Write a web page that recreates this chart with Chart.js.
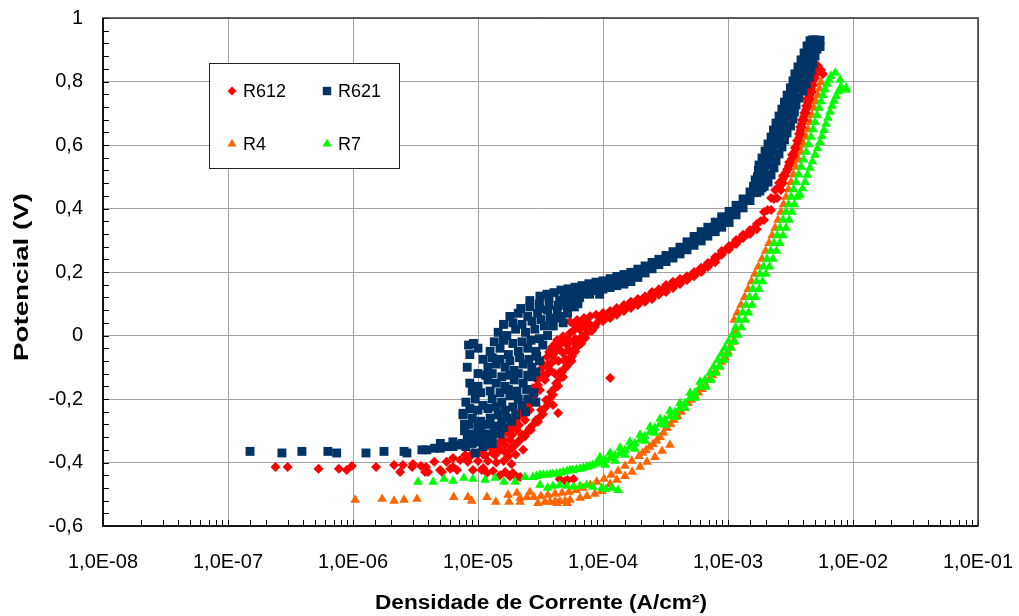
<!DOCTYPE html>
<html>
<head>
<meta charset="utf-8">
<script src="https://cdn.jsdelivr.net/npm/chart.js@4/dist/chart.umd.min.js"></script>
<style>
  html, body { margin: 0; padding: 0; background: #fff; }
  canvas { display: block; }
</style>
</head>
<body>
<canvas id="polChart" width="1019" height="616"></canvas>
<script>
// Potential (V) vs current density (A/cm2)
const seriesNames = ['R612', 'R621', 'R4', 'R7'];
const seriesColors = ['#ff0000', '#003366', '#ff6600', '#00ff00'];
const xTickDecades = [-8, -7, -6, -5, -4, -3, -2, -1];
const yTicks = [-0.6, -0.4, -0.2, 0, 0.2, 0.4, 0.6, 0.8, 1];

const r612 = [
  // cathodic tail
  [2.4e-7,-0.414],[3.0e-7,-0.414],[5.3e-7,-0.42],[7.7e-7,-0.42],[8.9e-7,-0.424],[9.8e-7,-0.411],
  [1.53e-6,-0.414],[2.13e-6,-0.408],[2.38e-6,-0.43],[2.51e-6,-0.408],[2.97e-6,-0.414],[3.02e-6,-0.405],
  [3.5e-6,-0.411],[3.77e-6,-0.43],[3.84e-6,-0.414],[3.98e-6,-0.43],[4.47e-6,-0.398],[4.97e-6,-0.424],
  [5.16e-6,-0.43],[5.6e-6,-0.398],[6.0e-6,-0.42],[6.31e-6,-0.386],[6.31e-6,-0.414],[6.8e-6,-0.424],
  [7.2e-6,-0.392],[7.9e-6,-0.376],[8.1e-6,-0.392],[8.3e-6,-0.398],[9.1e-6,-0.424],[9.1e-6,-0.37],
  [1.07e-5,-0.424],[1.1e-5,-0.417],[1.18e-5,-0.433],[1.32e-5,-0.427],[1.5e-5,-0.44],[1.65e-5,-0.43],
  [1.8e-5,-0.443],[1.9e-5,-0.433],[2.05e-5,-0.446],[2.17e-5,-0.446],
  [4.5e-5,-0.452],[4.97e-5,-0.458],[5.2e-5,-0.455],[5.8e-5,-0.452],
  [1.0e-5,-0.395],[1.2e-5,-0.395],[1.4e-5,-0.4],[1.6e-5,-0.395],[1.85e-5,-0.405],
  [1.1e-5,-0.375],[1.3e-5,-0.37],[1.75e-5,-0.38],[2.0e-5,-0.375],[2.3e-5,-0.36],
  // rising cluster
  [8.6e-6,-0.383],[1.04e-5,-0.367],[1.25e-5,-0.351],[1.5e-5,-0.335],[1.71e-5,-0.307],[1.9e-5,-0.282],
  [2.17e-5,-0.25],[2.47e-5,-0.213],[2.7e-5,-0.178],[2.97e-5,-0.14],[3.25e-5,-0.102],[3.57e-5,-0.068],
  [3.91e-5,-0.036],[4.29e-5,-0.014],[4.79e-5,-0.002],[5.45e-5,0.008],
  [1.42e-5,-0.354],[1.58e-5,-0.326],[1.77e-5,-0.298],[2.01e-5,-0.266],[2.25e-5,-0.235],[2.51e-5,-0.2],
  [2.75e-5,-0.165],[3.02e-5,-0.128],[3.31e-5,-0.09],[3.7e-5,-0.052],[4.13e-5,-0.027],
  [1.64e-5,-0.345],[1.87e-5,-0.313],[2.13e-5,-0.282],[2.33e-5,-0.25],[2.56e-5,-0.219],[2.8e-5,-0.187],
  [3.02e-5,-0.156],[3.31e-5,-0.124],[3.63e-5,-0.093],[3.98e-5,-0.061],[4.47e-5,-0.03],
  [1.14e-5,-0.376],[1.8e-5,-0.329],[2.05e-5,-0.298],[2.38e-5,-0.266],[2.6e-5,-0.235],[2.86e-5,-0.203],
  [3.13e-5,-0.172],[3.43e-5,-0.14],[3.77e-5,-0.109],[4.13e-5,-0.077],[4.53e-5,-0.046],[5.16e-5,-0.03],
  [1.5e-5,-0.361],[1.98e-5,-0.345],[2.25e-5,-0.313],[2.6e-5,-0.291],[2.91e-5,-0.266],[3.19e-5,-0.235],
  [3.5e-5,-0.203],[3.84e-5,-0.178],[4.21e-5,-0.15],[4.53e-5,-0.115],[4.97e-5,-0.083],[5.45e-5,-0.052],
  [5.97e-5,-0.024],[6.8e-5,-0.002],
  [1.8e-5,-0.361],[2.09e-5,-0.335],[2.38e-5,-0.317],[2.65e-5,-0.298],[3.02e-5,-0.272],[3.31e-5,-0.247],
  [3.63e-5,-0.216],[3.98e-5,-0.187],[4.37e-5,-0.159],[4.79e-5,-0.131],[5.16e-5,-0.096],[5.66e-5,-0.065],
  [6.31e-5,-0.033],[7.2e-5,-0.008],[8.14e-5,0.014],
  [1.37e-5,-0.376],[1.64e-5,-0.367],[1.9e-5,-0.351],[2.17e-5,-0.329],[2.47e-5,-0.304],[2.75e-5,-0.282],
  [3.13e-5,-0.257],[3.43e-5,-0.228],[3.77e-5,-0.197],[4.13e-5,-0.165],[4.53e-5,-0.134],[4.97e-5,-0.102],
  [5.45e-5,-0.071],[5.97e-5,-0.039],[6.55e-5,-0.014],[7.45e-5,0.008],[8.6e-5,0.027],
  [3.6e-5,-0.12],[4.1e-5,-0.12],[4.7e-5,-0.115],
  [3.9e-5,-0.085],[4.4e-5,-0.08],[5.0e-5,-0.075],[5.6e-5,-0.08],
  [4.2e-5,-0.05],[4.8e-5,-0.055],[5.3e-5,-0.045],[6.0e-5,-0.05],
  [4.7e-5,-0.02],[5.3e-5,-0.015],[6.0e-5,-0.01],[6.7e-5,-0.025],
  [5.8e-5,0.015],[6.5e-5,0.02],[7.2e-5,0.025],[8.0e-5,0.03],
  [6.0e-5,0.03],[6.8e-5,0.035],[7.6e-5,0.04],
  [3.98e-5,-0.219],[4.37e-5,-0.244],[1.14e-4,-0.134],
  [5.45e-5,0.043],[6.2e-5,0.049],[7.05e-5,0.055],[7.9e-5,0.061],
  // middle band
  [8.8e-5,0.065],[1.0e-4,0.071],[1.14e-4,0.077],[1.29e-4,0.087],[1.47e-4,0.096],[1.67e-4,0.106],
  [1.9e-4,0.115],[2.17e-4,0.124],[2.47e-4,0.137],[2.8e-4,0.146],[3.19e-4,0.159],[3.63e-4,0.169],
  [4.13e-4,0.178],[4.7e-4,0.187],[5.35e-4,0.2],[6.1e-4,0.213],[6.9e-4,0.228],[7.9e-4,0.247],
  [8.9e-4,0.266],[1.02e-3,0.282],[1.16e-3,0.301],[1.32e-3,0.317],[1.5e-3,0.332],[1.7e-3,0.351],
  [1.94e-3,0.389],[2.21e-3,0.433],
  [8.8e-5,0.036],[1.0e-4,0.046],[1.14e-4,0.055],[1.29e-4,0.065],[1.47e-4,0.077],[1.67e-4,0.087],
  [1.9e-4,0.096],[2.17e-4,0.106],[2.47e-4,0.115],[2.8e-4,0.128],[3.19e-4,0.137],[3.63e-4,0.15],
  [4.13e-4,0.162],[4.7e-4,0.175],[5.35e-4,0.187],[6.1e-4,0.2],[6.9e-4,0.216],[7.9e-4,0.231],
  [8.9e-4,0.254],[1.02e-3,0.272],[1.16e-3,0.288],[1.32e-3,0.307],[1.5e-3,0.32],[1.7e-3,0.335],
  [1.94e-3,0.364],[2.21e-3,0.395],[2.47e-3,0.433],
  [9.38e-5,0.055],[1.07e-4,0.062],[1.21e-4,0.071],[1.38e-4,0.081],[1.57e-4,0.092],[1.79e-4,0.101],
  [2.03e-4,0.11],[2.31e-4,0.121],[2.63e-4,0.132],[2.99e-4,0.143],[3.4e-4,0.154],[3.87e-4,0.165],
  [4.41e-4,0.176],[5.01e-4,0.187],[5.7e-4,0.2],[6.49e-4,0.214],[7.38e-4,0.231],[8.4e-4,0.25],
  [9.55e-4,0.269],[1.09e-3,0.286],[1.24e-3,0.303],[1.41e-3,0.319],[1.6e-3,0.335],[1.82e-3,0.36],
  [2.07e-3,0.395],[2.33e-3,0.43],
  // top branch
  [2.38e-3,0.458],[2.56e-3,0.48],[2.75e-3,0.502],[2.97e-3,0.524],[3.08e-3,0.546],[3.25e-3,0.569],
  [3.43e-3,0.591],[3.57e-3,0.613],[3.7e-3,0.635],[3.77e-3,0.657],[3.91e-3,0.679],[4.06e-3,0.701],
  [4.21e-3,0.723],[4.29e-3,0.745],[4.47e-3,0.767],[4.53e-3,0.789],[4.7e-3,0.811],[4.97e-3,0.833],
  [5.25e-3,0.849],
  [2.65e-3,0.458],[2.75e-3,0.48],[2.86e-3,0.502],[3.02e-3,0.524],[3.19e-3,0.546],[3.43e-3,0.569],
  [3.63e-3,0.591],[3.77e-3,0.613],[3.84e-3,0.635],[3.91e-3,0.657],[4.06e-3,0.679],[4.21e-3,0.701],
  [4.37e-3,0.723],[4.53e-3,0.745],[4.7e-3,0.767],[4.79e-3,0.789],[4.97e-3,0.811],[5.25e-3,0.833],
  [5.54e-3,0.836],[5.75e-3,0.824],
  [2.58e-3,0.469],[2.73e-3,0.491],[2.9e-3,0.513],[3.06e-3,0.535],[3.24e-3,0.557],[3.43e-3,0.58],
  [3.6e-3,0.602],[3.72e-3,0.624],[3.8e-3,0.646],[3.91e-3,0.668],[4.06e-3,0.69],[4.21e-3,0.712],
  [4.35e-3,0.734],[4.49e-3,0.756],[4.61e-3,0.778],[4.74e-3,0.8],[4.97e-3,0.822]
];

const r621 = [
  // flat tail
  [1.5e-7,-0.365],[2.7e-7,-0.37],[3.9e-7,-0.365],[6.3e-7,-0.365],[7.4e-7,-0.37],[1.27e-6,-0.37],
  [1.77e-6,-0.365],[2.56e-6,-0.365],[2.7e-6,-0.37],[3.56e-6,-0.36],[3.9e-6,-0.36],[4.5e-6,-0.355],
  [5.0e-6,-0.355],[5.0e-6,-0.34],[5.6e-6,-0.35],[6.3e-6,-0.35],[6.3e-6,-0.335],[7.0e-6,-0.345],
  [7.5e-6,-0.34],[8.0e-6,-0.35],[9.0e-6,-0.34],[9.5e-6,-0.37],[1.1e-5,-0.35],
  // scattered cluster
  [8.5e-6,-0.33],[1.0e-5,-0.335],[1.15e-5,-0.33],[1.3e-5,-0.34],
  [8.2e-6,-0.315],[9.5e-6,-0.32],[1.1e-5,-0.315],[1.3e-5,-0.32],[1.5e-5,-0.31],
  [7.8e-6,-0.3],[9.0e-6,-0.31],[1.05e-5,-0.3],[1.2e-5,-0.31],[1.4e-5,-0.3],[1.6e-5,-0.29],
  [8.5e-6,-0.28],[1.0e-5,-0.285],[1.15e-5,-0.28],[1.35e-5,-0.285],[1.55e-5,-0.275],[1.85e-5,-0.27],
  [7.6e-6,-0.25],[9.0e-6,-0.26],[1.05e-5,-0.27],[1.25e-5,-0.26],[1.45e-5,-0.25],[1.7e-5,-0.26],[2.0e-5,-0.25],[2.4e-5,-0.24],
  [8.6e-6,-0.23],[1.0e-5,-0.235],[1.2e-5,-0.23],[1.4e-5,-0.225],[1.65e-5,-0.235],[1.9e-5,-0.225],[2.25e-5,-0.22],
  [8.0e-6,-0.21],[9.5e-6,-0.2],[1.1e-5,-0.22],[1.3e-5,-0.2],[1.55e-5,-0.21],[1.8e-5,-0.19],[2.1e-5,-0.2],[2.5e-5,-0.2],[2.9e-5,-0.21],
  [9.0e-6,-0.175],[1.05e-5,-0.18],[1.25e-5,-0.175],[1.5e-5,-0.18],[1.75e-5,-0.17],[2.05e-5,-0.175],[2.45e-5,-0.17],[2.8e-5,-0.18],
  [8.6e-6,-0.15],[1.0e-5,-0.16],[1.2e-5,-0.14],[1.4e-5,-0.15],[1.65e-5,-0.16],[1.95e-5,-0.14],[2.3e-5,-0.15],[2.7e-5,-0.13],
  [1.0e-5,-0.12],[1.15e-5,-0.125],[1.3e-5,-0.12],[1.55e-5,-0.13],[1.8e-5,-0.125],[2.1e-5,-0.12],[2.5e-5,-0.125],[2.9e-5,-0.115],
  [1.2e-5,-0.1],[1.4e-5,-0.09],[1.65e-5,-0.1],[1.95e-5,-0.11],[2.3e-5,-0.09],[2.7e-5,-0.1],[3.1e-5,-0.08],
  [1.1e-5,-0.075],[1.3e-5,-0.07],[1.5e-5,-0.075],[1.8e-5,-0.08],[2.15e-5,-0.07],[2.55e-5,-0.075],[2.95e-5,-0.065],
  [1.25e-5,-0.05],[1.5e-5,-0.04],[1.75e-5,-0.06],[2.1e-5,-0.05],[2.5e-5,-0.04],[2.9e-5,-0.05],[3.3e-5,-0.03],
  [1.35e-5,-0.02],[1.6e-5,-0.015],[1.9e-5,-0.025],[2.25e-5,-0.02],[2.65e-5,-0.015],[3.1e-5,-0.01],[3.6e-5,0.0],
  [8.4e-6,-0.03],[9.2e-6,-0.025],[1.0e-5,-0.04],[8.6e-6,-0.06],[8.2e-6,-0.1],[7.6e-6,-0.245],[7.8e-6,-0.28],
  [1.45e-5,0.01],[1.7e-5,0.0],[2.0e-5,0.02],[2.4e-5,0.01],[2.85e-5,0.02],[3.4e-5,0.03],[4.0e-5,0.03],[4.8e-5,0.04],
  [1.6e-5,0.035],[1.9e-5,0.04],[2.25e-5,0.035],[2.7e-5,0.045],[3.2e-5,0.05],[3.8e-5,0.055],[4.4e-5,0.055],
  [1.8e-5,0.06],[2.1e-5,0.07],[2.5e-5,0.06],[3.0e-5,0.07],[3.6e-5,0.08],[4.3e-5,0.08],[5.2e-5,0.09],[6.3e-5,0.1],
  [2.2e-5,0.085],[2.6e-5,0.09],[3.1e-5,0.085],[3.7e-5,0.095],[4.4e-5,0.095],[5.2e-5,0.105],[6.0e-5,0.11],
  [2.6e-5,0.11],[3.1e-5,0.1],[3.7e-5,0.12],[4.5e-5,0.11],[5.4e-5,0.12],[6.5e-5,0.12],[7.8e-5,0.13],[9.4e-5,0.13],
  [4.6e-5,0.06],[5.2e-5,0.07],[5.9e-5,0.09],
  // band, upper edge
  [3.13e-5,0.124],[3.57e-5,0.13],[4.06e-5,0.135],[4.61e-5,0.143],[5.25e-5,0.147],[5.97e-5,0.152],
  [6.8e-5,0.157],[7.7e-5,0.163],[8.8e-5,0.168],[1.0e-4,0.172],[1.14e-4,0.179],[1.29e-4,0.186],
  [1.47e-4,0.192],[1.67e-4,0.199],[1.9e-4,0.209],[2.17e-4,0.219],[2.47e-4,0.23],[2.8e-4,0.24],
  [3.19e-4,0.252],[3.63e-4,0.264],[4.13e-4,0.278],[4.7e-4,0.295],[5.35e-4,0.312],[6.1e-4,0.327],
  [6.9e-4,0.341],[7.9e-4,0.357],[8.9e-4,0.374],[1.02e-3,0.391],[1.16e-3,0.41],[1.32e-3,0.43],
  [1.5e-3,0.452],[1.7e-3,0.476],[1.72e-3,0.5],[1.75e-3,0.52],
  // band, middle
  [4.92e-5,0.13],[5.6e-5,0.135],[6.37e-5,0.141],[7.24e-5,0.147],[8.24e-5,0.152],[9.38e-5,0.157],
  [1.07e-4,0.162],[1.21e-4,0.168],[1.38e-4,0.174],[1.57e-4,0.181],[1.79e-4,0.19],[2.03e-4,0.202],
  [2.31e-4,0.214],[2.63e-4,0.226],[2.99e-4,0.237],[3.4e-4,0.248],[3.87e-4,0.261],[4.41e-4,0.275],
  [5.01e-4,0.29],[5.7e-4,0.305],[6.49e-4,0.32],[7.38e-4,0.335],[8.4e-4,0.35],[9.55e-4,0.365],
  [1.09e-3,0.384],[1.24e-3,0.405],[1.41e-3,0.427],[1.6e-3,0.45],
  [1.6e-3,0.47],[1.65e-3,0.49],[1.8e-3,0.455],[1.9e-3,0.48],[1.95e-3,0.47],[2.0e-3,0.49],
  // band, lower edge
  [4.61e-5,0.112],[5.25e-5,0.118],[5.97e-5,0.125],[6.8e-5,0.131],[7.7e-5,0.136],[8.8e-5,0.141],
  [1.0e-4,0.146],[1.14e-4,0.151],[1.29e-4,0.157],[1.47e-4,0.162],[1.67e-4,0.17],[1.9e-4,0.183],
  [2.17e-4,0.197],[2.47e-4,0.21],[2.8e-4,0.223],[3.19e-4,0.233],[3.63e-4,0.244],[4.13e-4,0.257],
  [4.7e-4,0.27],[5.35e-4,0.284],[6.1e-4,0.298],[6.9e-4,0.313],[7.9e-4,0.327],[8.9e-4,0.341],
  [1.02e-3,0.356],[1.16e-3,0.38],[1.32e-3,0.402],[1.5e-3,0.425],[1.7e-3,0.45],[1.87e-3,0.465],
  // steep part
  [1.77e-3,0.537],[1.87e-3,0.559],[1.98e-3,0.581],[2.09e-3,0.603],[2.21e-3,0.625],[2.31e-3,0.647],
  [2.42e-3,0.669],[2.56e-3,0.691],[2.7e-3,0.713],[2.83e-3,0.735],[2.97e-3,0.757],[3.16e-3,0.78],
  [3.31e-3,0.802],[3.43e-3,0.824],[3.63e-3,0.846],[3.84e-3,0.868],[4.06e-3,0.89],[4.29e-3,0.912],
  [4.53e-3,0.928],
  [1.83e-3,0.493],[1.95e-3,0.515],[2.05e-3,0.537],[2.16e-3,0.559],[2.28e-3,0.581],[2.41e-3,0.603],
  [2.54e-3,0.625],[2.67e-3,0.647],[2.8e-3,0.669],[2.93e-3,0.691],[3.05e-3,0.713],[3.19e-3,0.735],
  [3.36e-3,0.757],[3.59e-3,0.78],[3.79e-3,0.802],[3.95e-3,0.824],[4.13e-3,0.846],[4.32e-3,0.868],
  [4.53e-3,0.89],[4.72e-3,0.912],
  [2.09e-3,0.483],[2.21e-3,0.506],[2.33e-3,0.528],[2.42e-3,0.55],[2.56e-3,0.572],[2.7e-3,0.594],
  [2.83e-3,0.616],[2.97e-3,0.638],[3.16e-3,0.66],[3.31e-3,0.682],[3.4e-3,0.704],[3.5e-3,0.726],
  [3.7e-3,0.748],[3.98e-3,0.77],[4.21e-3,0.792],[4.47e-3,0.814],[4.61e-3,0.836],[4.79e-3,0.858],
  [4.97e-3,0.88],[5.16e-3,0.902],[5.25e-3,0.924],
  [4.7e-3,0.931],[4.97e-3,0.931],[5.45e-3,0.93],[5.45e-3,0.91]
];

const r4 = [
  // scattered tail
  [1.04e-6,-0.518],[1.71e-6,-0.515],[2.13e-6,-0.521],[2.56e-6,-0.518],[3.25e-6,-0.515],[6.4e-6,-0.509],
  [8.3e-6,-0.509],[8.9e-6,-0.521],[1.18e-5,-0.509],[1.39e-5,-0.524],[1.74e-5,-0.502],[1.77e-5,-0.524],
  [2.05e-5,-0.496],[2.17e-5,-0.524],[2.6e-5,-0.493],[3.02e-5,-0.528],[4.29e-5,-0.528],[5.16e-5,-0.528],
  // main branch
  [2.17e-5,-0.512],[2.47e-5,-0.509],[2.8e-5,-0.509],[3.19e-5,-0.506],[3.63e-5,-0.502],[4.13e-5,-0.499],
  [4.7e-5,-0.496],[5.35e-5,-0.493],[6.1e-5,-0.487],[6.9e-5,-0.48],[7.9e-5,-0.471],[8.9e-5,-0.461],
  [1.02e-4,-0.452],[1.16e-4,-0.439],[1.32e-4,-0.427],[1.5e-4,-0.411],[1.7e-4,-0.395],[1.94e-4,-0.38],
  [2.21e-4,-0.361],[2.51e-4,-0.342],[2.86e-4,-0.32],[3.25e-4,-0.291],[3.7e-4,-0.266],[4.21e-4,-0.241],
  [4.79e-4,-0.213],[5.45e-4,-0.191],[6.2e-4,-0.169],[7.05e-4,-0.14],[8.0e-4,-0.112],[8.9e-4,-0.083],
  [1.0e-3,-0.052],[1.1e-3,-0.02],[1.16e-3,0.014],
  [2.07e-4,-0.37],[2.36e-4,-0.351],[2.68e-4,-0.331],[3.05e-4,-0.306],[3.47e-4,-0.279],[3.95e-4,-0.254],
  [4.49e-4,-0.228],[5.11e-4,-0.202],[5.81e-4,-0.18],[6.61e-4,-0.154],[7.52e-4,-0.126],[8.5e-4,-0.098],
  [9.45e-4,-0.068],[1.05e-3,-0.036],
  [3.43e-5,-0.524],[3.77e-5,-0.524],[4.13e-5,-0.524],[4.53e-5,-0.522],[4.97e-5,-0.521],[5.45e-5,-0.518],
  [6.55e-5,-0.512],[7.45e-5,-0.506],[8.6e-5,-0.499],[9.8e-5,-0.49],[1.14e-4,-0.468],[1.29e-4,-0.455],
  [1.5e-4,-0.443],[1.71e-4,-0.43],[1.98e-4,-0.414],[2.25e-4,-0.398],[2.6e-4,-0.383],[2.97e-4,-0.364],
  [3.43e-4,-0.345],
  [1.12e-3,0.049],[1.27e-3,0.096],[1.45e-3,0.146],[1.64e-3,0.194],[1.87e-3,0.241],[2.13e-3,0.291],
  [2.38e-3,0.339],[2.65e-3,0.389],[2.91e-3,0.436],[3.19e-3,0.483],[3.5e-3,0.531],[3.84e-3,0.578],
  [4.21e-3,0.625],[4.53e-3,0.672],[4.88e-3,0.717],[5.25e-3,0.757],[5.54e-3,0.798],
  [1.19e-3,0.072],[1.36e-3,0.121],[1.54e-3,0.17],[1.75e-3,0.217],[2.0e-3,0.266],[2.25e-3,0.315],
  [2.51e-3,0.364],[2.78e-3,0.413],[3.05e-3,0.46],[3.34e-3,0.507],[3.67e-3,0.554],[4.02e-3,0.602],
  [4.37e-3,0.649],[4.7e-3,0.694],[5.06e-3,0.737],[5.4e-3,0.778]
];

const r7 = [
  // tail
  [3.31e-6,-0.461],[4.37e-6,-0.461],[5.35e-6,-0.452],[6.31e-6,-0.458],[7.7e-6,-0.449],[9.1e-6,-0.452],
  [1.14e-5,-0.455],[1.37e-5,-0.449],[1.61e-5,-0.461],[1.98e-5,-0.461],[2.38e-5,-0.446],[2.75e-5,-0.446],
  [3.13e-5,-0.439],[3.57e-5,-0.439],[3.98e-5,-0.436],[4.53e-5,-0.433],[5.16e-5,-0.427],[5.75e-5,-0.424],
  [6.55e-5,-0.42],[7.45e-5,-0.414],[8.3e-5,-0.408],
  [2.94e-5,-0.443],[3.34e-5,-0.439],[3.77e-5,-0.438],[4.25e-5,-0.435],[4.83e-5,-0.43],[5.45e-5,-0.425],
  [6.14e-5,-0.422],[6.98e-5,-0.417],[7.87e-5,-0.411],[8.86e-5,-0.403],
  [3.13e-5,-0.471],[3.6e-5,-0.48],[3.98e-5,-0.474],[4.5e-5,-0.471],[5.16e-5,-0.474],[5.8e-5,-0.477],
  [6.55e-5,-0.474],[7.4e-5,-0.471],[8.3e-5,-0.477],[9.8e-5,-0.48],[1.05e-4,-0.484],[1.18e-4,-0.48],
  [1.32e-4,-0.487],
  // main branch
  [9.45e-5,-0.398],[1.14e-4,-0.386],[1.37e-4,-0.37],[1.64e-4,-0.351],[1.98e-4,-0.329],[2.38e-4,-0.304],
  [2.86e-4,-0.279],[3.43e-4,-0.254],[4.13e-4,-0.228],[4.97e-4,-0.197],[5.97e-4,-0.162],[7.2e-4,-0.118],
  [8.3e-4,-0.077],[9.45e-4,-0.039],[1.08e-3,0.002],[1.22e-3,0.049],[1.39e-3,0.096],[1.58e-3,0.146],
  [1.8e-3,0.194],[2.05e-3,0.241],[2.33e-3,0.291],[2.6e-3,0.339],[2.91e-3,0.389],[3.19e-3,0.436],
  [3.5e-3,0.483],[3.84e-3,0.531],[4.21e-3,0.578],[4.61e-3,0.625],[4.97e-3,0.672],[5.35e-3,0.717],
  [5.75e-3,0.757],[6.2e-3,0.792],[6.66e-3,0.817],
  [1.04e-4,-0.392],[1.25e-4,-0.378],[1.5e-4,-0.361],[1.8e-4,-0.34],[2.17e-4,-0.317],[2.6e-4,-0.291],
  [3.13e-4,-0.266],[3.77e-4,-0.241],[4.53e-4,-0.213],[5.45e-4,-0.18],[6.55e-4,-0.14],[7.7e-4,-0.098],
  [8.86e-4,-0.058],[1.01e-3,-0.019],[1.15e-3,0.025],[1.31e-3,0.072],[1.49e-3,0.121],[1.69e-3,0.17],
  [1.92e-3,0.217],[2.19e-3,0.266],[2.47e-3,0.315],[2.75e-3,0.364],[3.05e-3,0.413],[3.34e-3,0.46],
  [3.67e-3,0.507],[4.02e-3,0.554],[4.41e-3,0.602],[4.79e-3,0.649],[5.16e-3,0.694],[5.54e-3,0.737],
  [5.97e-3,0.775],[6.43e-3,0.805],
  [9.45e-5,-0.383],[1.14e-4,-0.37],[1.37e-4,-0.354],[1.64e-4,-0.335],[1.98e-4,-0.313],[2.38e-4,-0.288],
  [2.86e-4,-0.263],[3.43e-4,-0.238],[4.13e-4,-0.213],[4.97e-4,-0.181],[5.97e-4,-0.146],
  [1.04e-4,-0.408],[1.25e-4,-0.395],[1.5e-4,-0.376],[1.8e-4,-0.357],[2.17e-4,-0.332],[2.6e-4,-0.307],
  [3.13e-4,-0.282],[3.77e-4,-0.257],[4.53e-4,-0.228],[5.45e-4,-0.197],
  [6.66e-4,-0.162],[8.0e-4,-0.118],[9.3e-4,-0.077],[1.06e-3,-0.039],[1.2e-3,0.002],[1.37e-3,0.049],
  [1.56e-3,0.096],[1.77e-3,0.146],[2.01e-3,0.194],[2.29e-3,0.241],[2.6e-3,0.291],[2.91e-3,0.339],
  [3.25e-3,0.389],[3.57e-3,0.436],
  [7.33e-4,-0.14],[8.6e-4,-0.098],[9.9e-4,-0.058],[1.13e-3,-0.019],[1.28e-3,0.025],[1.46e-3,0.072],
  [1.66e-3,0.121],[1.89e-3,0.17],[2.15e-3,0.217],[2.44e-3,0.266],[2.75e-3,0.315],[3.08e-3,0.364],
  [3.4e-3,0.413],
  [3.77e-3,0.443],[4.13e-3,0.483],[4.53e-3,0.528],[4.97e-3,0.569],[5.45e-3,0.609],[5.86e-3,0.647],
  [6.31e-3,0.685],[6.8e-3,0.723],[7.33e-3,0.754],[8.0e-3,0.783],[8.8e-3,0.773],
  [3.95e-3,0.463],[4.32e-3,0.506],[4.74e-3,0.548],[5.2e-3,0.589],[5.65e-3,0.628],[6.08e-3,0.666],
  [6.55e-3,0.704],[7.05e-3,0.739],[7.65e-3,0.769],
  [7.2e-3,0.827],[7.9e-3,0.805],[8.8e-3,0.78]
];

const FONT = 'Arial, "Liberation Sans", sans-serif';
const GRID = '#a3a3a3';

function isDecade(v) {
  const e = Math.log10(v);
  return Math.abs(e - Math.round(e)) < 1e-6;
}

function decadeLabel(v) {
  const e = Math.round(Math.log10(v));
  if (!isDecade(v) || !xTickDecades.includes(e)) return '';
  return '1,0E' + (e < 0 ? '-' : '+') + String(Math.abs(e)).padStart(2, '0');
}

function stretchText(ctx, text, cx, cy, width, angle) {
  ctx.save();
  ctx.translate(cx, cy);
  ctx.rotate(angle);
  const w = ctx.measureText(text).width;
  ctx.scale(width / w, 1);
  ctx.textAlign = 'center';
  ctx.textBaseline = 'middle';
  ctx.fillText(text, 0, 0);
  ctx.restore();
}

function marker(ctx, style, x, y, color) {
  ctx.fillStyle = color;
  ctx.beginPath();
  if (style === 'rectRot') {
    ctx.moveTo(x - 4.5, y); ctx.lineTo(x, y - 4.5); ctx.lineTo(x + 4.5, y); ctx.lineTo(x, y + 4.5);
  } else if (style === 'rect') {
    ctx.rect(x - 4.2, y - 4.2, 8.4, 8.4);
  } else {
    ctx.moveTo(x, y - 5.2); ctx.lineTo(x + 4.5, y + 2.6); ctx.lineTo(x - 4.5, y + 2.6);
  }
  ctx.closePath();
  ctx.fill();
}

const pointStyles = ['rectRot', 'rect', 'triangle', 'triangle'];
const pointRadii = [5.0, 6.3, 5.6, 5.6];

// frame, inward ticks, legend box and axis titles
const decorations = {
  id: 'decorations',
  afterDraw(chart) {
    const { ctx, chartArea: a, scales: { x, y } } = chart;
    ctx.save();

    ctx.strokeStyle = '#000';
    ctx.lineWidth = 1;
    ctx.beginPath();
    x.ticks.forEach(t => {
      const px = Math.round(x.getPixelForValue(t.value)) + 0.5;
      ctx.moveTo(px, a.bottom);
      ctx.lineTo(px, a.bottom - 6);
    });
    for (let i = 0; i <= 40; i++) {
      const py = Math.round(y.getPixelForValue(-0.6 + i * 0.04)) + 0.5;
      ctx.moveTo(a.left, py);
      ctx.lineTo(a.left + 6, py);
    }
    ctx.stroke();

    ctx.lineWidth = 1.5;
    ctx.strokeStyle = '#333';
    ctx.strokeRect(a.left, a.top, a.right - a.left, a.bottom - a.top);
    ctx.strokeStyle = '#000';
    ctx.beginPath();
    ctx.moveTo(a.left, a.top);
    ctx.lineTo(a.left, a.bottom);
    ctx.lineTo(a.right, a.bottom);
    ctx.stroke();

    // legend
    ctx.fillStyle = '#fff';
    ctx.fillRect(209.5, 63.5, 190, 105);
    ctx.lineWidth = 1;
    ctx.strokeStyle = '#222';
    ctx.strokeRect(209.5, 63.5, 190, 105);
    const spots = [[232, 91], [327, 91], [232, 144], [327, 144]];
    ctx.font = '18px ' + FONT;
    ctx.textBaseline = 'middle';
    ctx.textAlign = 'left';
    seriesNames.forEach((name, i) => {
      const [lx, ly] = spots[i];
      marker(ctx, pointStyles[i], lx, ly, seriesColors[i]);
      ctx.fillStyle = '#000';
      ctx.fillText(name, lx + 11, ly + 1);
    });

    // axis titles
    ctx.fillStyle = '#000';
    ctx.font = 'bold 20px ' + FONT;
    stretchText(ctx, 'Densidade de Corrente (A/cm²)', 541, 603, 332, 0);
    stretchText(ctx, 'Potencial (V)', 22, 277, 168, -Math.PI / 2);

    ctx.restore();
  }
};

const toPoints = arr => arr.map(([x, y]) => ({ x, y }));
const seriesData = [r612, r621, r4, r7];

new Chart(document.getElementById('polChart'), {
  type: 'scatter',
  data: {
    datasets: seriesNames.map((name, i) => ({
      label: name,
      data: toPoints(seriesData[i]),
      pointStyle: pointStyles[i],
      pointRadius: pointRadii[i],
      pointBackgroundColor: seriesColors[i],
      pointBorderColor: seriesColors[i],
      pointBorderWidth: 0,
      showLine: false,
      order: seriesNames.length - 1 - i
    }))
  },
  options: {
    responsive: false,
    animation: false,
    devicePixelRatio: 1,
    layout: { padding: { top: 18, right: 41, bottom: 0, left: 0 } },
    plugins: {
      legend: { display: false },
      tooltip: { enabled: false }
    },
    scales: {
      x: {
        type: 'logarithmic',
        min: 1e-8,
        max: 1e-1,
        afterFit: s => { s.height = 90; s.paddingLeft = 0; s.paddingRight = 0; },
        border: { display: false },
        grid: {
          drawTicks: false,
          lineWidth: 1,
          color: c => (c.tick && isDecade(c.tick.value)) ? GRID : 'rgba(0,0,0,0)'
        },
        ticks: {
          autoSkip: false,
          maxRotation: 0,
          minRotation: 0,
          padding: 24,
          color: '#000',
          font: { family: FONT, size: 20 },
          callback: v => decadeLabel(v)
        }
      },
      y: {
        min: -0.6,
        max: 1,
        afterFit: s => { s.width = 103; s.paddingTop = 0; s.paddingBottom = 0; },
        afterBuildTicks: s => { s.ticks = yTicks.map(v => ({ value: v })); },
        border: { display: false },
        grid: { drawTicks: false, lineWidth: 1, color: GRID },
        ticks: {
          padding: 20,
          color: '#000',
          font: { family: FONT, size: 20 },
          callback: v => {
            const r = Math.round(v * 10) / 10;
            return r === 0 ? '0' : String(r).replace('.', ',');
          }
        }
      }
    }
  },
  plugins: [decorations]
});
</script>
</body>
</html>
